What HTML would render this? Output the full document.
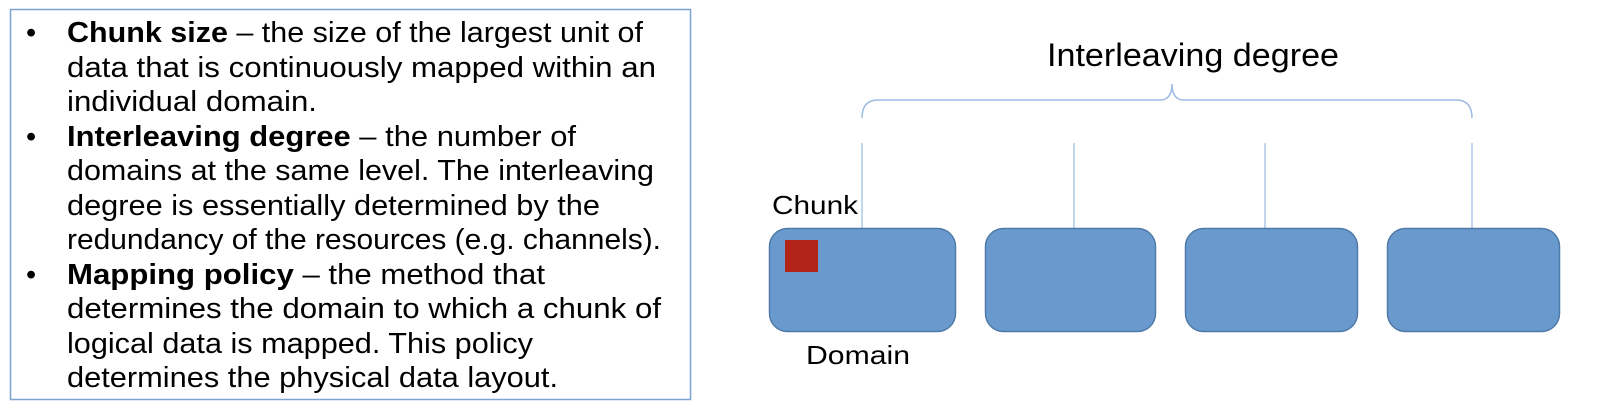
<!DOCTYPE html>
<html><head><meta charset="utf-8"><style>
html,body{margin:0;padding:0;background:#fff;}
svg{display:block;}
text{font-family:"Liberation Sans",sans-serif;fill:#000;}
</style></head><body>
<svg width="1598" height="410" viewBox="0 0 1598 410" xmlns="http://www.w3.org/2000/svg">
<rect x="10.5" y="9.5" width="680" height="390" fill="#fff" stroke="#7da3d3" stroke-width="1.5"/>
<g font-size="29">
<text x="26" y="42">•</text>
<text x="67" y="42" textLength="576" lengthAdjust="spacingAndGlyphs"><tspan font-weight="bold">Chunk size</tspan> – the size of the largest unit of</text>
<text x="67" y="77" textLength="589" lengthAdjust="spacingAndGlyphs">data that is continuously mapped within an</text>
<text x="67" y="111" textLength="250" lengthAdjust="spacingAndGlyphs">individual domain.</text>
<text x="26" y="146">•</text>
<text x="67" y="146" textLength="509" lengthAdjust="spacingAndGlyphs"><tspan font-weight="bold">Interleaving degree</tspan> – the number of</text>
<text x="67" y="180" textLength="587" lengthAdjust="spacingAndGlyphs">domains at the same level. The interleaving</text>
<text x="67" y="215" textLength="533" lengthAdjust="spacingAndGlyphs">degree is essentially determined by the</text>
<text x="67" y="249" textLength="594" lengthAdjust="spacingAndGlyphs">redundancy of the resources (e.g. channels).</text>
<text x="26" y="284">•</text>
<text x="67" y="284" textLength="478" lengthAdjust="spacingAndGlyphs"><tspan font-weight="bold">Mapping policy</tspan> – the method that</text>
<text x="67" y="318" textLength="594" lengthAdjust="spacingAndGlyphs">determines the domain to which a chunk of</text>
<text x="67" y="353" textLength="466" lengthAdjust="spacingAndGlyphs">logical data is mapped. This policy</text>
<text x="67" y="387" textLength="491" lengthAdjust="spacingAndGlyphs">determines the physical data layout.</text>
</g>
<text x="1193" y="66" font-size="32" text-anchor="middle" textLength="292" lengthAdjust="spacingAndGlyphs">Interleaving degree</text>
<path d="M862 118 Q862 100 878 100 L1160 100 Q1172 100 1172 84 Q1172 100 1184 100 L1456 100 Q1472 100 1472 118" fill="none" stroke="#9dbbe3" stroke-width="1.5"/>
<g stroke="#9dbbe3" stroke-width="1.2">
<line x1="862" y1="143" x2="862" y2="228"/>
<line x1="1074" y1="143" x2="1074" y2="228"/>
<line x1="1265" y1="143" x2="1265" y2="228"/>
<line x1="1472" y1="143" x2="1472" y2="228"/>
</g>
<g fill="#6a9acd" stroke="#4f7aa8" stroke-width="1.5">
<rect x="769.5" y="228.5" width="186" height="103" rx="18"/>
<rect x="985.5" y="228.5" width="170" height="103" rx="18"/>
<rect x="1185.5" y="228.5" width="172" height="103" rx="18"/>
<rect x="1387.5" y="228.5" width="172" height="103" rx="18"/>
</g>
<rect x="785" y="240" width="33" height="32" fill="#b22418"/>
<text x="772" y="214" font-size="26" textLength="86" lengthAdjust="spacingAndGlyphs">Chunk</text>
<text x="806" y="364" font-size="26" textLength="104" lengthAdjust="spacingAndGlyphs">Domain</text>
</svg>
</body></html>
